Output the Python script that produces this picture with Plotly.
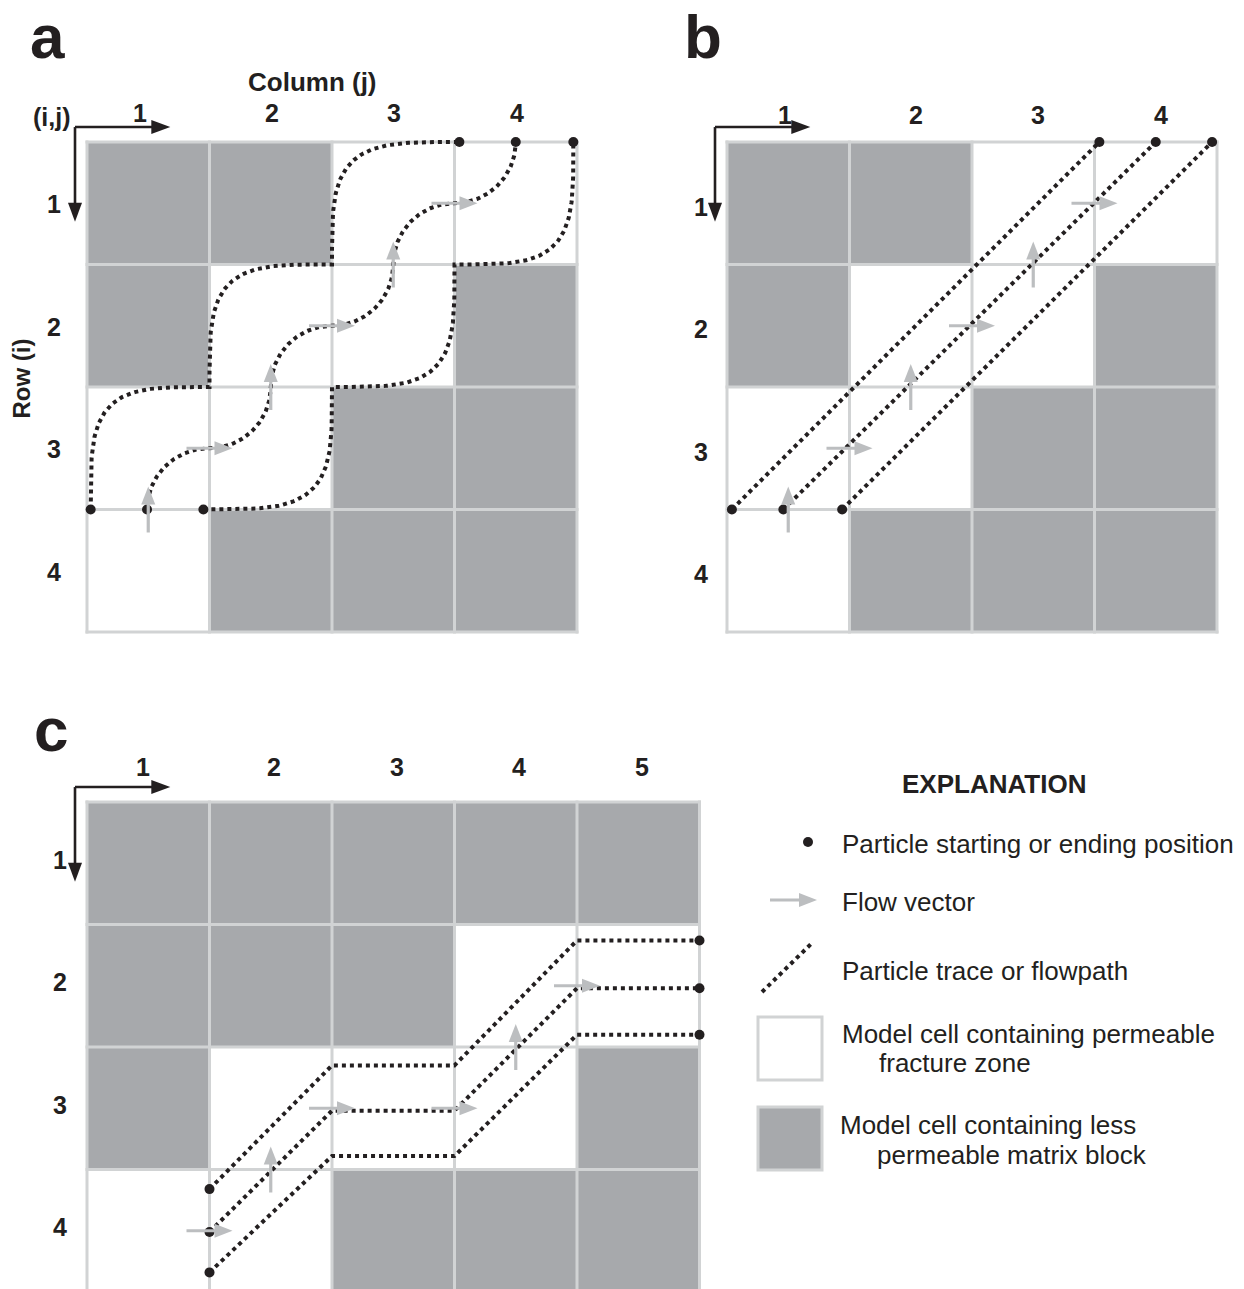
import numpy as np
import plotly.graph_objects as go

# ------------------------------------------------------------------ data
# cell type: 1 = less permeable matrix block (gray), 0 = permeable fracture zone (white)
cells_a = [[1, 1, 0, 0],
           [1, 0, 0, 1],
           [0, 0, 1, 1],
           [0, 1, 1, 1]]
cells_b = [[1, 1, 0, 0],
           [1, 0, 0, 1],
           [0, 0, 1, 1],
           [0, 1, 1, 1]]
cells_c = [[1, 1, 1, 1, 1],
           [1, 1, 1, 0, 0],
           [1, 0, 0, 0, 1],
           [0, 0, 1, 1, 1]]

col_labels_ab = ["1", "2", "3", "4"]
col_labels_c = ["1", "2", "3", "4", "5"]
row_labels = ["1", "2", "3", "4"]

# flow vectors (column coordinate, row coordinate, direction)
flow_ab_u = [0.5, 1.0, 1.5, 2.0, 2.5, 3.0]
flow_ab_v = [3.0, 2.5, 2.0, 1.5, 1.0, 0.5]
flow_ab_dir = ["up", "right", "up", "right", "up", "right"]
flow_c_u = [1.0, 1.5, 2.0, 3.0, 3.5, 4.0]
flow_c_v = [3.5, 3.0, 2.5, 2.5, 2.0, 1.5]
flow_c_dir = ["right", "up", "right", "right", "up", "right"]

# panel a: particle traces as stair-step waypoints (v = vertical move first, h = horizontal first)
trace_a1_u = [0.03, 1.0, 2.0, 3.04]
trace_a1_v = [3.0, 2.0, 1.0, 0.0]
trace_a1_moves = "vvv"
trace_a2_u = [0.49, 1.0, 1.5, 2.0, 2.5, 3.0, 3.5]
trace_a2_v = [3.0, 2.5, 2.0, 1.5, 1.0, 0.5, 0.0]
trace_a2_moves = "vhvhvh"
trace_a3_u = [0.95, 2.0, 3.0, 3.97]
trace_a3_v = [3.0, 2.0, 1.0, 0.0]
trace_a3_moves = "hhh"

# panel b: straight particle traces
trace_b_start_u = [0.04, 0.46, 0.94]
trace_b_start_v = [3.0, 3.0, 3.0]
trace_b_end_u = [3.04, 3.50, 3.96]
trace_b_end_v = [0.0, 0.0, 0.0]

# panel c: particle traces
trace_c_u = [1.0, 2.0, 3.0, 4.0, 5.0]
trace_c1_v = [3.16, 2.15, 2.15, 1.13, 1.13]
trace_c2_v = [3.51, 2.52, 2.52, 1.52, 1.52]
trace_c3_v = [3.84, 2.89, 2.89, 1.90, 1.90]

legend_texts = ["Particle starting or ending position", "Flow vector",
                "Particle trace or flowpath", "Model cell containing permeable",
                "fracture zone", "Model cell containing less", "permeable matrix block"]

# ------------------------------------------------------------------ style
W, H = 1244, 1289
S = 122.5  # pixels per model cell
GRAY = "#a7a9ac"
GRID = "#d1d3d4"
ARROWC = "#bcbec0"
INK = "#231f20"
FONT = "Liberation Sans, Arial, Helvetica, sans-serif"
DOTDASH = "4px,4px"

fig = go.Figure()
shapes = []
anns = []
layout_axes = {}

PANELS = {
    "a": dict(ax="", ox=87, oy=142, box=(0, 0, 640, 690)),
    "b": dict(ax="2", ox=727, oy=142, box=(640, 0, W, 690)),
    "c": dict(ax="3", ox=87, oy=802, box=(0, 690, 740, H)),
}


def xdom(x0, x1):
    return [x0 / W, x1 / W]


def ydom(y0, y1):
    return [1 - y1 / H, 1 - y0 / H]


for p in PANELS.values():
    x0, y0, x1, y1 = p["box"]
    layout_axes["xaxis" + p["ax"]] = dict(domain=xdom(x0, x1),
                                          range=[(x0 - p["ox"]) / S, (x1 - p["ox"]) / S],
                                          visible=False, fixedrange=True, anchor="y" + p["ax"])
    layout_axes["yaxis" + p["ax"]] = dict(domain=ydom(y0, y1),
                                          range=[(y1 - p["oy"]) / S, (y0 - p["oy"]) / S],
                                          visible=False, fixedrange=True, anchor="x" + p["ax"])
# legend area in pixel units
layout_axes["xaxis4"] = dict(domain=xdom(740, W), range=[740, W], visible=False,
                             fixedrange=True, anchor="y4")
layout_axes["yaxis4"] = dict(domain=ydom(690, H), range=[H, 690], visible=False,
                             fixedrange=True, anchor="x4")


def refs(key):
    ax = PANELS[key]["ax"]
    return "x" + ax, "y" + ax


def add_grid(key, cells):
    xr, yr = refs(key)
    nr, nc = len(cells), len(cells[0])
    fig.add_trace(go.Heatmap(z=cells, x=[j + 0.5 for j in range(nc)], y=[i + 0.5 for i in range(nr)],
                             colorscale=[[0, "white"], [1, GRAY]], zmin=0, zmax=1,
                             showscale=False, hoverinfo="skip", xaxis=xr, yaxis=yr))
    e = 1.5 / S
    xs, ys = [], []
    for j in range(nc + 1):
        xs += [j, j, None]
        ys += [-e, nr + e, None]
    for i in range(nr + 1):
        xs += [-e, nc + e, None]
        ys += [i, i, None]
    fig.add_trace(go.Scatter(x=xs, y=ys, mode="lines", line=dict(color=GRID, width=3),
                             hoverinfo="skip", xaxis=xr, yaxis=yr))


def add_arrow(xr, yr, tail, tip, color, width, head_len, head_w, scale):
    tail = np.array(tail, float)
    tip = np.array(tip, float)
    d = (tip - tail) / np.linalg.norm(tip - tail)
    perp = np.array([-d[1], d[0]])
    base = tip - d * head_len * scale
    shaft_end = tip - d * head_len * 0.6 * scale
    fig.add_trace(go.Scatter(x=[tail[0], shaft_end[0]], y=[tail[1], shaft_end[1]], mode="lines",
                             line=dict(color=color, width=width), hoverinfo="skip",
                             xaxis=xr, yaxis=yr, cliponaxis=False))
    c1 = base + perp * head_w / 2 * scale
    c2 = base - perp * head_w / 2 * scale
    fig.add_trace(go.Scatter(x=[tip[0], c1[0], c2[0], tip[0]], y=[tip[1], c1[1], c2[1], tip[1]],
                             mode="lines", fill="toself", fillcolor=color, line=dict(width=0),
                             hoverinfo="skip", xaxis=xr, yaxis=yr))


DIRS = {"up": (0.0, -1.0), "right": (1.0, 0.0)}


def add_flow(key, us, vs, dirs):
    xr, yr = refs(key)
    half = 23 / S
    for u, v, dname in zip(us, vs, dirs):
        d = np.array(DIRS[dname])
        p = np.array([u, v])
        add_arrow(xr, yr, p - d * half, p + d * half, ARROWC, 3.2, 18, 14, 1 / S)


def add_path(key, xs, ys):
    xr, yr = refs(key)
    fig.add_trace(go.Scatter(x=xs, y=ys, mode="lines",
                             line=dict(color=INK, width=4, dash=DOTDASH),
                             hoverinfo="skip", xaxis=xr, yaxis=yr))


def add_dots(key, xs, ys):
    xr, yr = refs(key)
    fig.add_trace(go.Scatter(x=xs, y=ys, mode="markers", marker=dict(size=10, color=INK),
                             hoverinfo="skip", xaxis=xr, yaxis=yr, cliponaxis=False))


def stair_curve(us, vs, moves, n):
    X, Y = [], []
    for k in range(len(us) - 1):
        A = (us[k], vs[k])
        B = (us[k + 1], vs[k + 1])
        C = (A[0], B[1]) if moves[k] == "v" else (B[0], A[1])
        D = (A[0] + B[0] - C[0], A[1] + B[1] - C[1])
        th = np.linspace(0, np.pi / 2, 90)
        c = np.clip(np.cos(th), 0, 1) ** (2 / n)
        s = np.clip(np.sin(th), 0, 1) ** (2 / n)
        x = D[0] + (A[0] - D[0]) * c + (B[0] - D[0]) * s
        y = D[1] + (A[1] - D[1]) * c + (B[1] - D[1]) * s
        if k > 0:
            x, y = x[1:], y[1:]
        X += list(x)
        Y += list(y)
    return X, Y


def add_axes_arrows(key):
    xr, yr = refs(key)
    cu, cv = -0.098, -0.122
    add_arrow(xr, yr, (cu, cv), (0.68, cv), INK, 2.6, 19, 14, 1 / S)
    add_arrow(xr, yr, (cu, cv), (cu, 0.65), INK, 2.6, 19, 14, 1 / S)


def label(xr, yr, x, y, text, size, bold=True, xanchor="center", angle=0):
    anns.append(dict(x=x, y=y, xref=xr, yref=yr, text=("<b>%s</b>" % text) if bold else text,
                     showarrow=False, xanchor=xanchor, yanchor="middle", textangle=angle,
                     font=dict(family=FONT, size=size, color=INK)))


# ------------------------------------------------------------------ panel a
add_grid("a", cells_a)
for us, vs, mv, n in [(trace_a1_u, trace_a1_v, trace_a1_moves, 4),
                      (trace_a2_u, trace_a2_v, trace_a2_moves, 2),
                      (trace_a3_u, trace_a3_v, trace_a3_moves, 4)]:
    X, Y = stair_curve(us, vs, mv, n)
    add_path("a", X, Y)
    add_dots("a", [us[0], us[-1]], [vs[0], vs[-1]])
add_flow("a", flow_ab_u, flow_ab_v, flow_ab_dir)
add_axes_arrows("a")

# ------------------------------------------------------------------ panel b
add_grid("b", cells_b)
for su, sv, eu, ev in zip(trace_b_start_u, trace_b_start_v, trace_b_end_u, trace_b_end_v):
    add_path("b", [su, eu], [sv, ev])
    add_dots("b", [su, eu], [sv, ev])
add_flow("b", flow_ab_u, flow_ab_v, flow_ab_dir)
add_axes_arrows("b")

# ------------------------------------------------------------------ panel c
add_grid("c", cells_c)
for vs in [trace_c1_v, trace_c2_v, trace_c3_v]:
    add_path("c", trace_c_u, vs)
    add_dots("c", [trace_c_u[0], trace_c_u[-1]], [vs[0], vs[-1]])
add_flow("c", flow_c_u, flow_c_v, flow_c_dir)
add_axes_arrows("c")

# ------------------------------------------------------------------ labels
LBL = 25
xr, yr = refs("a")
label(xr, yr, -0.322, -0.86, "a", 62)
label(xr, yr, 1.841, -0.49, "Column (j)", 26)
label(xr, yr, -0.286, -0.205, "(i,j)", 25)
label(xr, yr, -0.535, 1.927, "Row (i)", 24, angle=-90)
for j, t in enumerate(col_labels_ab):
    label(xr, yr, 0.43 if j == 0 else j + 0.51, -0.237, t, LBL)
for i, t in enumerate(row_labels):
    label(xr, yr, -0.27, i + 0.51, t, LBL)

xr, yr = refs("b")
label(xr, yr, -0.192, -0.86, "b", 62)
for j, t in enumerate(col_labels_ab):
    label(xr, yr, 0.47 if j == 0 else j + 0.54, -0.22, t, LBL)
for i, t in enumerate(row_labels):
    label(xr, yr, -0.21, i + 0.53, t, LBL)

xr, yr = refs("c")
label(xr, yr, -0.294, -0.59, "c", 62)
for j, t in enumerate(col_labels_c):
    label(xr, yr, 0.457 if j == 0 else j + 0.53, -0.286, t, LBL)
for i, t in enumerate(row_labels):
    label(xr, yr, -0.22, i + 0.47, t, LBL)

# ------------------------------------------------------------------ explanation (pixel units)
label("x4", "y4", 993.5, 784, "EXPLANATION", 26)
fig.add_trace(go.Scatter(x=[808], y=[842], mode="markers", marker=dict(size=10, color=INK),
                         hoverinfo="skip", xaxis="x4", yaxis="y4"))
add_arrow("x4", "y4", (770, 900), (817, 900), ARROWC, 3.2, 18, 14, 1)
fig.add_trace(go.Scatter(x=[762, 812], y=[992, 943], mode="lines",
                         line=dict(color=INK, width=4, dash=DOTDASH),
                         hoverinfo="skip", xaxis="x4", yaxis="y4"))
shapes.append(dict(type="rect", xref="x4", yref="y4", x0=758, x1=822, y0=1017, y1=1080,
                   fillcolor="white", line=dict(color=GRID, width=3)))
shapes.append(dict(type="rect", xref="x4", yref="y4", x0=758, x1=822, y0=1107, y1=1170,
                   fillcolor=GRAY, line=dict(color=GRID, width=3)))
leg_x = [840, 840, 840, 840, 877, 838, 875]
leg_y = [844, 902, 971, 1034, 1063, 1125, 1155]
for t, x, y in zip(legend_texts, leg_x, leg_y):
    label("x4", "y4", x, y, t, 26, bold=False, xanchor="left")

fig.update_traces(showlegend=False)
fig.update_layout(width=W, height=H, margin=dict(l=0, r=0, t=0, b=0),
                  paper_bgcolor="white", plot_bgcolor="rgba(0,0,0,0)",
                  showlegend=False, hovermode=False,
                  annotations=anns, shapes=shapes, **layout_axes)
# let the figure start at the page corner (no default body margin), no mode bar
fig.write_html("out.html", config={"displayModeBar": False, "staticPlot": True},
               post_script="document.body.style.margin='0px';")
